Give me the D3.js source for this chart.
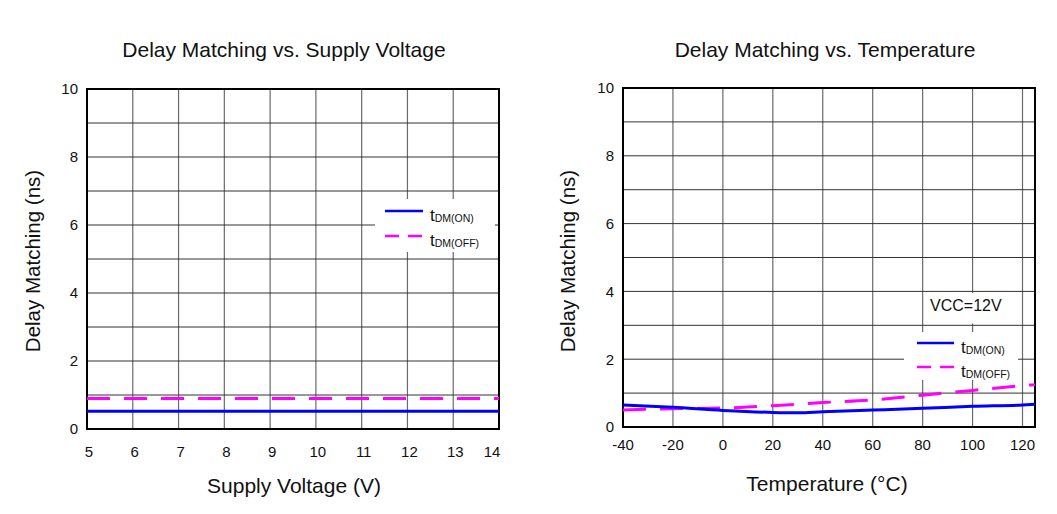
<!DOCTYPE html>
<html><head><meta charset="utf-8">
<script src="https://cdn.jsdelivr.net/npm/d3@7"></script>
<style>body{margin:0;background:#fff}svg{display:block;font-family:"Liberation Sans",Arial,sans-serif}</style>
</head><body>
<svg id="c" width="1057" height="514"></svg>
<script>
// ---- data ----
const voltage = [5, 6, 7, 8, 9, 10, 11, 12, 13, 14];
const vOn  = [0.52, 0.52, 0.52, 0.52, 0.52, 0.52, 0.52, 0.52, 0.52, 0.52];
const vOff = [0.90, 0.90, 0.90, 0.90, 0.90, 0.90, 0.90, 0.90, 0.90, 0.90];
const temperature = [-40, -20, 0, 20, 30, 40, 60, 80, 100, 120, 125];
const tOn  = [0.65, 0.58, 0.49, 0.43, 0.42, 0.45, 0.50, 0.55, 0.61, 0.65, 0.67];
const tOff = [0.50, 0.54, 0.56, 0.63, 0.67, 0.72, 0.80, 0.94, 1.08, 1.22, 1.25];
const voltTicks = [5, 6, 7, 8, 9, 10, 11, 12, 13, 14];
const tempTicks = [-40, -20, 0, 20, 40, 60, 80, 100, 120];
const yTicks = [0, 2, 4, 6, 8, 10];
const seriesNames = ["ON", "OFF"];

const svg = d3.select("#c");

function panel(o) {
  const x = d3.scaleLinear().domain(o.xDomain).range([o.x0, o.x1]);
  const y = d3.scaleLinear().domain([0, 10]).range([o.y1, o.y0]);
  const g = svg.append("g");
  // vertical grid
  g.selectAll(".vg").data(o.vGrid).join("line")
    .attr("x1", d => x(d)).attr("x2", d => x(d))
    .attr("y1", o.y0).attr("y2", o.y1)
    .attr("stroke", "#6a6a6a").attr("stroke-width", 1.2);
  // horizontal grid
  g.selectAll(".hg").data(d3.range(0, 11)).join("line")
    .attr("x1", o.x0).attr("x2", o.x1)
    .attr("y1", d => y(d)).attr("y2", d => y(d))
    .attr("stroke", "#333").attr("stroke-width", 1);
  // extra white boxes
  (o.boxes || []).forEach(b => {
    g.append("rect").attr("x", x(b[0])).attr("y", y(b[3]))
      .attr("width", x(b[1]) - x(b[0])).attr("height", y(b[2]) - y(b[3]))
      .attr("fill", "#fff");
  });
  // border
  g.append("rect").attr("x", o.x0).attr("y", o.y0)
    .attr("width", o.x1 - o.x0).attr("height", o.y1 - o.y0)
    .attr("fill", "none").attr("stroke", "#000").attr("stroke-width", 2);
  // series
  const line = d3.line().x((d, i) => x(o.xs[i])).y(d => y(d)).curve(d3.curveMonotoneX);
  g.append("path").datum(o.off).attr("d", line)
    .attr("fill", "none").attr("stroke", "#ff00ff").attr("stroke-width", 3)
    .attr("stroke-dasharray", "23,14");
  g.append("path").datum(o.on).attr("d", line)
    .attr("fill", "none").attr("stroke", "#0000ff").attr("stroke-width", 3);
  // y tick labels
  g.selectAll(".yl").data(yTicks).join("text")
    .attr("x", o.x0 - 9).attr("y", d => y(d)).attr("dy", "0.36em")
    .attr("text-anchor", "end").attr("font-size", 15).attr("fill", "#111")
    .text(d => d);
  // x tick labels
  g.selectAll(".xl").data(o.xTicks).join("text")
    .attr("x", d => Math.min(x(d) + o.xOff, o.x1 - 7))
    .attr("y", o.xLabY).attr("text-anchor", "middle")
    .attr("font-size", 15).attr("fill", "#111").text(d => d);
  // titles
  g.append("text").attr("x", o.titleX).attr("y", 57).attr("text-anchor", "middle")
    .attr("font-size", 21).attr("fill", "#111").text(o.title);
  g.append("text").attr("x", o.xTitleX).attr("y", o.xTitleY).attr("text-anchor", "middle")
    .attr("font-size", 21).attr("fill", "#111").text(o.xTitle);
  g.append("text").attr("transform", `translate(${o.yTitleX},261) rotate(-90)`)
    .attr("dy", "0.36em").attr("text-anchor", "middle")
    .attr("font-size", 20.5).attr("fill", "#111").text("Delay Matching (ns)");
  // legend
  const L = o.legend;
  g.append("rect").attr("x", L.x).attr("y", L.y).attr("width", L.w).attr("height", L.h).attr("fill", "#fff");
  seriesNames.forEach((s, i) => {
    const ly = L.ly[i];
    g.append("line").attr("x1", L.lx0).attr("x2", L.lx1).attr("y1", ly).attr("y2", ly)
      .attr("stroke", i === 0 ? "#0000ff" : "#ff00ff").attr("stroke-width", 2.5)
      .attr("stroke-dasharray", i === 0 ? null : "14,9");
    const t = g.append("text").attr("x", L.lx1 + 7).attr("y", ly + 10).attr("fill", "#111");
    t.append("tspan").attr("font-size", 17).text("t");
    t.append("tspan").attr("font-size", 10.5).attr("dy", 1).text("DM(" + s + ")");
  });
  if (o.note) {
    g.append("text").attr("x", o.note.x).attr("y", o.note.y).attr("font-size", 16)
      .attr("fill", "#111").text(o.note.text);
  }
}

panel({
  x0: 87, x1: 499, y0: 89, y1: 429,
  xDomain: [5, 14], vGrid: voltTicks, xTicks: voltTicks, xOff: 2, xLabY: 457,
  xs: voltage, on: vOn, off: vOff,
  title: "Delay Matching vs. Supply Voltage", titleX: 284,
  xTitle: "Supply Voltage (V)", xTitleX: 294, xTitleY: 493, yTitleX: 33,
  legend: {x: 375, y: 199, w: 120, h: 53, lx0: 385, lx1: 423, ly: [211, 236]}
});

panel({
  x0: 623, x1: 1035, y0: 88, y1: 427,
  xDomain: [-40, 125], vGrid: [-40, -20, 0, 20, 40, 60, 80, 100, 120, 125], xTicks: tempTicks, xOff: 0, xLabY: 450,
  xs: temperature, on: tOn, off: tOff,
  title: "Delay Matching vs. Temperature", titleX: 825,
  xTitle: "Temperature (°C)", xTitleX: 827, xTitleY: 491, yTitleX: 568,
  boxes: [[81, 119, 3.05, 3.95]],
  note: {x: 930, y: 311, text: "VCC=12V"},
  legend: {x: 904, y: 332, w: 114, h: 48, lx0: 917, lx1: 954, ly: [343, 367]}
});
</script>
</body></html>
